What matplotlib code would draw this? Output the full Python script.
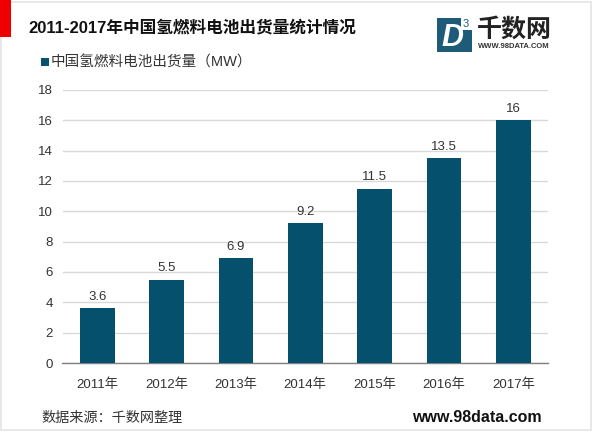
import matplotlib
matplotlib.use('Agg')
import matplotlib.pyplot as plt
from matplotlib.patches import Rectangle

plt.rcParams['font.family'] = ['Liberation Sans', 'Noto Sans CJK SC', 'DejaVu Sans']

years = ['2011年', '2012年', '2013年', '2014年', '2015年', '2016年', '2017年']
shipments = [3.6, 5.5, 6.9, 9.2, 11.5, 13.5, 16]
value_labels = ['3.6', '5.5', '6.9', '9.2', '11.5', '13.5', '16']
y_ticks = [0, 2, 4, 6, 8, 10, 12, 14, 16, 18]

W, H = 600, 433
BAR_COLOR = '#04506d'
TEXT_COLOR = '#333333'

fig = plt.figure(figsize=(W / 100, H / 100), dpi=100)


def px(x, y):
    # pixel position from top left -> figure fraction
    return x / W, 1 - y / H


# Slide frame and red marker
fig.add_artist(Rectangle(px(1, 430), 590 / W, 428 / H, transform=fig.transFigure,
                         fc='white', ec='#e4e4e4', lw=1.2, zorder=-1))
fig.add_artist(Rectangle(px(0, 37), 11 / W, 37 / H, transform=fig.transFigure,
                         fc='#ee0000', ec='none'))

# Main chart
ax = fig.add_axes([62.5 / W, 1 - 363 / H, 485.5 / W, 273 / H], zorder=2)
ax.patch.set_alpha(0)
ax.bar(range(len(years)), shipments, width=0.5, color=BAR_COLOR, zorder=3)
ax.set_xlim(-0.5, 6.5)
ax.set_ylim(0, 18)
ax.set_xticks(range(len(years)))
ax.set_xticklabels(years)
ax.set_yticks(y_ticks)
ax.tick_params(axis='both', length=0, labelsize=9.5, labelcolor=TEXT_COLOR)
ax.tick_params(axis='x', pad=11)
ax.tick_params(axis='y', pad=7)
ax.grid(axis='y', color='#d9d9d9', lw=1, zorder=0)
for side in ['top', 'right', 'left']:
    ax.spines[side].set_visible(False)
ax.spines['bottom'].set_color('#808080')
ax.spines['bottom'].set_linewidth(1)

for i, label in enumerate(value_labels):
    ax.annotate(label, (i, shipments[i]), xytext=(0, 4), textcoords='offset points',
                ha='center', va='bottom', fontsize=9.5, color=TEXT_COLOR)

# Title and legend
fig.text(*px(28, 28), '2011-2017年中国氢燃料电池出货量统计情况', fontsize=12,
         fontweight='bold', color='#111111', va='center')
fig.add_artist(Rectangle(px(41, 66), 8 / W, 8 / H, transform=fig.transFigure,
                         fc=BAR_COLOR, ec='none'))
fig.text(*px(51, 63), '中国氢燃料电池出货量（MW）', fontsize=10.5, color=TEXT_COLOR, va='center')

# Logo, the 3 sits in a notch cut out of the box corner
fig.add_artist(Rectangle(px(437, 52), 35 / W, 34 / H, transform=fig.transFigure,
                         fc='#1d5b78', ec='none'))
fig.add_artist(Rectangle(px(461, 30), 11 / W, 12 / H, transform=fig.transFigure,
                         fc='white', ec='none'))
fig.text(*px(452, 38), 'D', fontsize=22, fontweight='bold', style='italic', color='white',
         ha='center', va='center')
fig.text(*px(466, 24), '3', fontsize=8, color='#1d5b78', ha='center', va='center')
fig.text(*px(514, 30), '千数网', fontsize=18, fontweight='bold', color='#222222',
         ha='center', va='center')
fig.text(*px(514, 47), 'WWW.98DATA.COM', fontsize=5.5, fontweight='bold', color='#333333',
         ha='center', va='center')

# Footer
fig.text(*px(41, 418), '数据来源：千数网整理', fontsize=10.2, color=TEXT_COLOR, va='center')
fig.text(*px(412, 417), 'www.98data.com', fontsize=11.5, fontweight='bold', color='#111111',
         va='center')

fig.savefig('out.png', dpi=100)
